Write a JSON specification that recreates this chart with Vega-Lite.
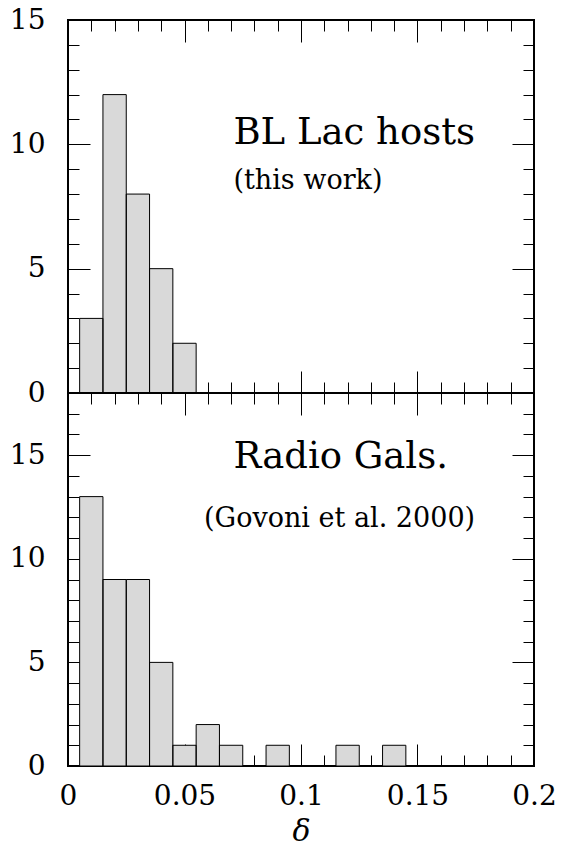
{
  "$schema": "https://vega.github.io/schema/vega-lite/v6.json",
  "padding": {"left": 8, "top": 5, "right": 0, "bottom": 0},
  "spacing": 0,
  "bounds": "flush",
  "background": "white",
  "config": {
    "view": {"stroke": "black", "strokeWidth": 2},
    "axis": {
      "domain": false, "grid": false, "zindex": 1,
      "tickColor": "black", "tickWidth": 1,
      "labelFont": "DejaVu Serif", "labelFontSize": 28, "labelColor": "black",
      "labelFlush": false, "labelOverlap": false, "labelBound": false,
      "titleFont": "DejaVu Serif", "titleColor": "black", "titleFontWeight": "normal"
    },
    "text": {"font": "DejaVu Serif", "color": "black"}
  },
  "datasets": {
    "bl": [
      {"lo": 0.005, "hi": 0.015, "n": 3},
      {"lo": 0.015, "hi": 0.025, "n": 12},
      {"lo": 0.025, "hi": 0.035, "n": 8},
      {"lo": 0.035, "hi": 0.045, "n": 5},
      {"lo": 0.045, "hi": 0.055, "n": 2}
    ],
    "rg": [
      {"lo": 0.005, "hi": 0.015, "n": 13},
      {"lo": 0.015, "hi": 0.025, "n": 9},
      {"lo": 0.025, "hi": 0.035, "n": 9},
      {"lo": 0.035, "hi": 0.045, "n": 5},
      {"lo": 0.045, "hi": 0.055, "n": 1},
      {"lo": 0.055, "hi": 0.065, "n": 2},
      {"lo": 0.065, "hi": 0.075, "n": 1},
      {"lo": 0.085, "hi": 0.095, "n": 1},
      {"lo": 0.115, "hi": 0.125, "n": 1},
      {"lo": 0.135, "hi": 0.145, "n": 1}
    ]
  },
  "vconcat": [
    {
      "width": 466,
      "height": 373,
      "resolve": {"axis": {"x": "independent", "y": "independent"}},
      "layer": [
        {
          "data": {"name": "bl"},
          "mark": {"type": "bar", "fill": "#d9d9d9", "strokeWidth": 0},
          "encoding": {
            "x": {"field": "lo", "type": "quantitative",
              "scale": {"domain": [0, 0.2], "nice": false, "zero": false},
              "axis": {"orient": "bottom", "values": [0, 0.05, 0.1, 0.15, 0.2], "tickSize": -22, "labels": false, "title": null}},
            "x2": {"field": "hi"},
            "y": {"field": "n", "type": "quantitative",
              "scale": {"domain": [0, 15], "nice": false},
              "axis": {"orient": "left", "values": [0, 5, 10, 15], "tickSize": -22, "labelPadding": 45, "title": null}},
            "y2": {"datum": 0}
          }
        },
        {
          "data": {"values": [{"label": "BL Lac hosts"}]},
          "mark": {"type": "text", "align": "left", "baseline": "alphabetic", "fontSize": 37},
          "encoding": {
            "x": {"datum": 0.071, "type": "quantitative",
              "axis": {"orient": "bottom", "values": [0.01,0.02,0.03,0.04,0.06,0.07,0.08,0.09,0.11,0.12,0.13,0.14,0.16,0.17,0.18,0.19], "tickSize": -11, "labels": false, "title": null}},
            "y": {"datum": 10, "type": "quantitative",
              "axis": {"orient": "left", "values": [1,2,3,4,6,7,8,9,11,12,13,14], "tickSize": -11, "labels": false, "title": null}},
            "text": {"field": "label"}
          }
        },
        {
          "data": {"values": [{"label": "(this work)"}]},
          "mark": {"type": "text", "align": "left", "baseline": "alphabetic", "fontSize": 27},
          "encoding": {
            "x": {"datum": 0.071, "type": "quantitative",
              "axis": {"orient": "top", "values": [0, 0.05, 0.1, 0.15, 0.2], "tickSize": -22, "labels": false, "title": null}},
            "y": {"datum": 8.2, "type": "quantitative",
              "axis": {"orient": "right", "values": [0, 5, 10, 15], "tickSize": -22, "labels": false, "title": null}},
            "text": {"field": "label"}
          }
        },
        {
          "data": {"name": "bl"},
          "mark": {"type": "bar", "fill": null, "fillOpacity": 0, "stroke": "black", "strokeWidth": 1},
          "encoding": {
            "x": {"field": "lo", "type": "quantitative",
              "axis": {"orient": "top", "values": [0.01,0.02,0.03,0.04,0.06,0.07,0.08,0.09,0.11,0.12,0.13,0.14,0.16,0.17,0.18,0.19], "tickSize": -11, "labels": false, "title": null}},
            "x2": {"field": "hi"},
            "y": {"field": "n", "type": "quantitative",
              "axis": {"orient": "right", "values": [1,2,3,4,6,7,8,9,11,12,13,14], "tickSize": -11, "labels": false, "title": null}},
            "y2": {"datum": 0}
          }
        }
      ]
    },
    {
      "width": 466,
      "height": 373,
      "resolve": {"axis": {"x": "independent", "y": "independent"}},
      "layer": [
        {
          "data": {"name": "rg"},
          "mark": {"type": "bar", "fill": "#d9d9d9", "strokeWidth": 0},
          "encoding": {
            "x": {"field": "lo", "type": "quantitative",
              "scale": {"domain": [0, 0.2], "nice": false, "zero": false},
              "axis": {"orient": "bottom", "values": [0, 0.05, 0.1, 0.15, 0.2], "tickSize": -22, "labelPadding": 38, "format": "~g",
                "title": "δ", "titleFontSize": 30, "titleFontStyle": "italic", "titlePadding": 6}},
            "x2": {"field": "hi"},
            "y": {"field": "n", "type": "quantitative",
              "scale": {"domain": [0, 18], "nice": false},
              "axis": {"orient": "left", "values": [0, 5, 10, 15], "tickSize": -22, "labelPadding": 45, "title": null}},
            "y2": {"datum": 0}
          }
        },
        {
          "data": {"values": [{"label": "Radio Gals."}]},
          "mark": {"type": "text", "align": "left", "baseline": "alphabetic", "fontSize": 37},
          "encoding": {
            "x": {"datum": 0.071, "type": "quantitative",
              "axis": {"orient": "bottom", "values": [0.01,0.02,0.03,0.04,0.06,0.07,0.08,0.09,0.11,0.12,0.13,0.14,0.16,0.17,0.18,0.19], "tickSize": -11, "labels": false, "title": null}},
            "y": {"datum": 14.38, "type": "quantitative",
              "axis": {"orient": "left", "values": [1,2,3,4,6,7,8,9,11,12,13,14,16,17], "tickSize": -11, "labels": false, "title": null}},
            "text": {"field": "label"}
          }
        },
        {
          "data": {"values": [{"label": "(Govoni et al. 2000)"}]},
          "mark": {"type": "text", "align": "left", "baseline": "alphabetic", "fontSize": 27},
          "encoding": {
            "x": {"datum": 0.0584, "type": "quantitative",
              "axis": {"orient": "top", "values": [0, 0.05, 0.1, 0.15, 0.2], "tickSize": -22, "labels": false, "title": null}},
            "y": {"datum": 11.55, "type": "quantitative",
              "axis": {"orient": "right", "values": [0, 5, 10, 15], "tickSize": -22, "labels": false, "title": null}},
            "text": {"field": "label"}
          }
        },
        {
          "data": {"name": "rg"},
          "mark": {"type": "bar", "fill": null, "fillOpacity": 0, "stroke": "black", "strokeWidth": 1},
          "encoding": {
            "x": {"field": "lo", "type": "quantitative",
              "axis": {"orient": "top", "values": [0.01,0.02,0.03,0.04,0.06,0.07,0.08,0.09,0.11,0.12,0.13,0.14,0.16,0.17,0.18,0.19], "tickSize": -11, "labels": false, "title": null}},
            "x2": {"field": "hi"},
            "y": {"field": "n", "type": "quantitative",
              "axis": {"orient": "right", "values": [1,2,3,4,6,7,8,9,11,12,13,14,16,17], "tickSize": -11, "labels": false, "title": null}},
            "y2": {"datum": 0}
          }
        }
      ]
    }
  ]
}
